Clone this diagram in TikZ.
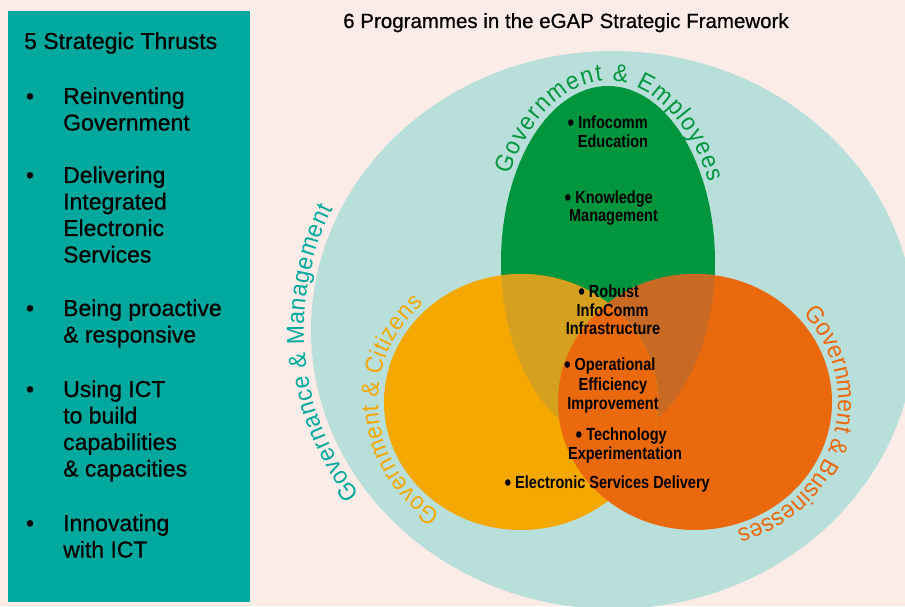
\documentclass[tikz,border=0pt]{standalone}
\usepackage{fontspec}
\setmainfont{Liberation Sans}
\newfontfamily\innerfont[FakeStretch=0.83,UprightFont=*-Bold]{Liberation Sans}
\newfontfamily\boxfont[FakeBold=0.7]{Liberation Sans}
\newfontfamily\arcfamily[FakeStretch=0.93]{Liberation Sans}
\usetikzlibrary{decorations.text}
\definecolor{bgpink}{RGB}{252,236,232}
\definecolor{boxteal}{RGB}{0,168,157}
\definecolor{lteal}{RGB}{185,223,219}
\definecolor{vgreen}{RGB}{0,150,62}
\definecolor{vyellow}{RGB}{245,168,0}
\definecolor{vorange}{RGB}{234,105,12}
\definecolor{volive}{RGB}{212,160,30}
\definecolor{vbrown}{RGB}{201,106,36}
\newcommand{\arcfnt}{\arcfamily\fontsize{24.5}{28}\selectfont}
\newcommand{\ibul}{\llap{\raisebox{-2pt}{\scalebox{1.3}{\textbullet}}\hspace{4pt}}}
\begin{document}
\begin{tikzpicture}[x=1pt,y=1pt,
  boxtext/.style={anchor=base west, inner sep=0pt, font=\boxfont\fontsize{23}{26.5}\selectfont},
  boxbullet/.style={anchor=base, inner sep=0pt, font=\boxfont\fontsize{23}{26.5}\selectfont},
  innertext/.style={anchor=base, inner sep=0pt, font=\innerfont\fontsize{17.5}{18.5}\selectfont},
  arclabel/.style={decorate, decoration={text along path, text align=fit to path, text={#1}}}
]
\useasboundingbox (0,0) rectangle (905,606);
\clip (0,0) rectangle (905,606);
\fill[bgpink] (0,0) rectangle (905,606);
% left box
\fill[boxteal] (8,4) rectangle (250,595);
% outer ellipse
\fill[lteal] (613,276) ellipse[x radius=302pt, y radius=279pt];
% green
\fill[vgreen] (608,344) ellipse[x radius=107pt, y radius=176pt];
% orange
\fill[vorange] (695,204) ellipse[x radius=137pt, y radius=128pt];
\begin{scope}
  \clip (608,344) ellipse[x radius=107pt, y radius=176pt];
  \fill[vbrown] (695,204) ellipse[x radius=137pt, y radius=128pt];
\end{scope}
% yellow
\fill[vyellow] (521,204) ellipse[x radius=137pt, y radius=128pt];
\begin{scope}
  \clip (608,344) ellipse[x radius=107pt, y radius=176pt];
  \fill[volive] (521,204) ellipse[x radius=137pt, y radius=128pt];
\end{scope}
\begin{scope}
  \clip (521,204) ellipse[x radius=137pt, y radius=128pt];
  \fill[vorange] (695,204) ellipse[x radius=137pt, y radius=128pt];
\end{scope}
% arc labels
\path[arclabel={|\arcfnt\color{boxteal}|Governance {\&} Management}]
  (613,276) ++(215:309pt and 287pt) arc[start angle=215, end angle=155, x radius=309pt, y radius=287pt];
\path[arclabel={|\arcfnt\color{vgreen}|Government {\&} Employees}]
  (608,344) ++(151:112pt and 181pt) arc[start angle=151, end angle=26, x radius=112pt, y radius=181pt];
\path[arclabel={|\arcfnt\color{vyellow}|Government {\&} Citizens}]
  (521,204) ++(236:143pt and 134pt) arc[start angle=236, end angle=133, x radius=143pt, y radius=134pt];
\path[arclabel={|\arcfnt\color{vorange}|Government {\&} Businesses}]
  (695,204) ++(41:143pt and 134pt) arc[start angle=41, end angle=-73, x radius=143pt, y radius=134pt];
% title
\node[anchor=base, inner sep=0pt, font=\boxfont\fontsize{20.5}{24}\selectfont] (title) at (566,578) {6 Programmes in the eGAP Strategic Framework};
% box text
\node[boxtext] (head) at (24,557) {5 Strategic Thrusts};
\foreach \yy [count=\i] in {502,423,290,209,75}
  \node[boxbullet] (bb\i) at (30,\yy) {\textbullet};
\foreach \txt/\yy [count=\i] in {Reinventing/502, Government/475.5, Delivering/423, Integrated/396.5, Electronic/370, Services/343.5, Being proactive/290, \& responsive/263.5, Using ICT/209, to build/182.5, capabilities/156, \& capacities/129.5, Innovating/75, with ICT/48.5}
  \node[boxtext] (bt\i) at (63,\yy) {\txt};
% inner labels
\foreach \txt/\xx/\yy [count=\i] in {
  {\ibul Infocomm}/613/477.7,
  Education/613/458.7,
  {\ibul Knowledge}/614/402,
  Management/613.5/384,
  {\ibul Robust}/614/308.5,
  InfoComm/612.5/290,
  Infrastructure/613/271.5,
  {\ibul Operational}/615/235.5,
  Efficiency/613/216,
  Improvement/613/197,
  {\ibul Technology}/626.5/165.5,
  Experimentation/625/147,
  {\ibul Electronic Services Delivery}/612.5/118}
  \node[innertext] (it\i) at (\xx,\yy) {\txt};
\end{tikzpicture}
\end{document}
